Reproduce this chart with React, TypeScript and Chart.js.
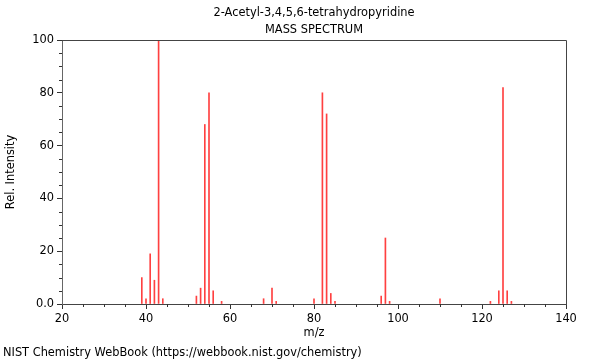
import React, { useEffect, useRef } from 'react';
import { Chart, registerables } from 'chart.js';

Chart.register(...registerables);

const titleLines = ['2-Acetyl-3,4,5,6-tetrahydropyridine', 'MASS SPECTRUM'];
const footerText = 'NIST Chemistry WebBook (https://webbook.nist.gov/chemistry)';
const xAxisTitle = 'm/z';
const yAxisTitle = 'Rel. Intensity';

const mzValues = [39, 40, 41, 42, 43, 44, 52, 53, 54, 55, 56, 58, 68, 70, 71, 80, 82, 83, 84, 85, 96, 97, 98, 110, 122, 124, 125, 126, 127];
const intensities = [10, 2, 19, 9, 100, 2, 3, 6, 68, 80, 5, 1, 2, 6, 1, 2, 80, 72, 4, 1, 3, 25, 1, 2, 1, 5, 82, 5, 1];

const xRange = [20, 140];
const yRange = [0, 100];
const majorStep = 20;
const minorStep = 5;

const FONT_FAMILY = '"DejaVu Sans", sans-serif';
const FONT_SIZE = 11.4;

const decorPlugin = {
  id: 'decor',
  afterDraw(chart: any) {
    const { ctx, chartArea: a, scales } = chart;
    ctx.save();
    // top and right frame
    ctx.strokeStyle = '#444';
    ctx.lineWidth = 1;
    ctx.beginPath();
    ctx.moveTo(a.left, Math.round(a.top) + 0.5);
    ctx.lineTo(Math.round(a.right) + 0.5, Math.round(a.top) + 0.5);
    ctx.lineTo(Math.round(a.right) + 0.5, a.bottom);
    ctx.stroke();

    // minor ticks
    ctx.strokeStyle = '#333';
    ctx.beginPath();
    for (let v = xRange[0]; v <= xRange[1]; v += minorStep) {
      if (v % majorStep === 0) continue;
      const x = Math.round(scales.x.getPixelForValue(v)) + 0.5;
      ctx.moveTo(x, a.bottom);
      ctx.lineTo(x, a.bottom + 3);
    }
    for (let v = yRange[0]; v <= yRange[1]; v += minorStep) {
      if (v % majorStep === 0) continue;
      const y = Math.round(scales.y.getPixelForValue(v)) + 0.5;
      ctx.moveTo(a.left, y);
      ctx.lineTo(a.left - 3, y);
    }
    ctx.stroke();

    // texts
    ctx.fillStyle = '#000';
    ctx.font = `${FONT_SIZE}px ${FONT_FAMILY}`;
    ctx.textAlign = 'center';
    ctx.textBaseline = 'middle';
    const cx = (a.left + a.right) / 2;
    ctx.fillText(titleLines[0], cx, 13);
    ctx.fillText(titleLines[1], cx, 30);
    ctx.fillText(xAxisTitle, cx, 333);

    ctx.save();
    ctx.translate(11, (a.top + a.bottom) / 2);
    ctx.rotate(-Math.PI / 2);
    ctx.fillText(yAxisTitle, 0, 0);
    ctx.restore();

    ctx.textAlign = 'left';
    ctx.fillText(footerText, 3, 353);
    ctx.restore();
  },
};

export default function App() {
  const canvasRef = useRef<HTMLCanvasElement | null>(null);

  useEffect(() => {
    if (!canvasRef.current) return;
    const data = mzValues.map((m, i) => ({ x: m, y: intensities[i] }));
    const tickFont = { family: FONT_FAMILY, size: FONT_SIZE };
    const chart = new Chart(canvasRef.current, {
      type: 'bar',
      data: {
        datasets: [
          {
            data: data as any,
            backgroundColor: 'rgba(255,0,0,0.75)',
            borderWidth: 0,
            barThickness: 1,
            grouped: false,
          } as any,
        ],
      },
      options: {
        animation: false,
        responsive: false,
        maintainAspectRatio: false,
        layout: { padding: { top: 40, right: 34, left: 0, bottom: 0 } },
        plugins: {
          legend: { display: false },
          tooltip: { enabled: false },
          title: { display: false },
        },
        scales: {
          x: {
            type: 'linear',
            offset: false,
            min: xRange[0],
            max: xRange[1],
            afterFit: (s: any) => {
              s.height = 56;
            },
            ticks: {
              stepSize: majorStep,
              font: tickFont,
              color: '#000',
              padding: 3,
              maxRotation: 0,
              autoSkip: false,
            },
            grid: { offset: false, drawOnChartArea: false, tickLength: 5, tickColor: '#333' },
            border: { color: '#444', width: 1 },
          },
          y: {
            min: yRange[0],
            max: yRange[1],
            afterFit: (s: any) => {
              s.width = 62;
            },
            ticks: {
              stepSize: majorStep,
              font: tickFont,
              color: '#000',
              padding: 3,
              callback: (v: any) => (v === 0 ? '0.0' : String(v)),
            },
            grid: { drawOnChartArea: false, tickLength: 5, tickColor: '#333' },
            border: { color: '#666', width: 1 },
          },
        },
      } as any,
      plugins: [decorPlugin],
    });
    return () => chart.destroy();
  }, []);

  return (
    <div style={{ position: 'absolute', left: 0, top: 0, width: 600, height: 360, background: '#fff' }}>
      <canvas ref={canvasRef} width={600} height={360} />
    </div>
  );
}
